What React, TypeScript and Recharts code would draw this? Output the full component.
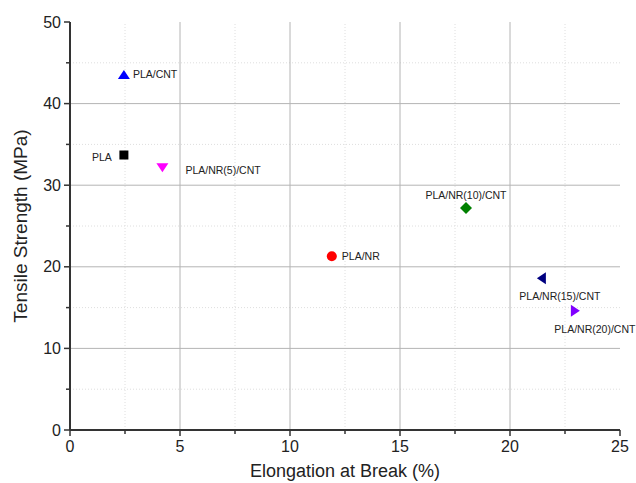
import React from 'react';
import { ScatterChart, Scatter, XAxis, YAxis, ReferenceLine } from 'recharts';

// samples and their (elongation %, tensile strength MPa)
const samples = ['PLA', 'PLA/CNT', 'PLA/NR', 'PLA/NR(5)/CNT', 'PLA/NR(10)/CNT', 'PLA/NR(15)/CNT', 'PLA/NR(20)/CNT'];
const elongation = [2.45, 2.45, 11.9, 4.2, 18.0, 21.45, 22.95];
const strength = [33.7, 43.5, 21.3, 32.2, 27.2, 18.6, 14.6];

const xTicks = [0, 5, 10, 15, 20, 25];
const yTicks = [0, 10, 20, 30, 40, 50];
const xMinor = [2.5, 7.5, 12.5, 17.5, 22.5];
const yMinor = [5, 15, 25, 35, 45];

// marker look + label placement per sample
const markerStyle: Record<string, { kind: string; color: string; dx: number; dy: number; anchor: string }> = {
  'PLA': { kind: 'square', color: '#000000', dx: -12, dy: 2, anchor: 'end' },
  'PLA/CNT': { kind: 'up', color: '#0000ff', dx: 9, dy: -1, anchor: 'start' },
  'PLA/NR': { kind: 'circle', color: '#ff0000', dx: 10, dy: 0, anchor: 'start' },
  'PLA/NR(5)/CNT': { kind: 'down', color: '#ff00ff', dx: 23, dy: 3, anchor: 'start' },
  'PLA/NR(10)/CNT': { kind: 'diamond', color: '#008000', dx: 0, dy: -13, anchor: 'middle' },
  'PLA/NR(15)/CNT': { kind: 'left', color: '#000080', dx: 18, dy: 18, anchor: 'middle' },
  'PLA/NR(20)/CNT': { kind: 'right', color: '#8000ff', dx: 20, dy: 18, anchor: 'middle' },
};

const FONT = '"Liberation Sans", Arial, sans-serif';
const AXIS = '#333333';

function Marker(props: any) {
  const { cx, cy, payload } = props;
  const s = markerStyle[payload.name];
  const r = 5;
  let mark: React.ReactNode = null;
  if (s.kind === 'square') mark = <rect x={cx - 4.5} y={cy - 4.5} width={9} height={9} fill={s.color} />;
  if (s.kind === 'circle') mark = <circle cx={cx} cy={cy} r={r} fill={s.color} />;
  if (s.kind === 'up') mark = <polygon points={`${cx},${cy - r} ${cx + r + 1},${cy + r - 1} ${cx - r - 1},${cy + r - 1}`} fill={s.color} />;
  if (s.kind === 'down') mark = <polygon points={`${cx},${cy + r} ${cx + r + 1},${cy - r + 1} ${cx - r - 1},${cy - r + 1}`} fill={s.color} />;
  if (s.kind === 'left') mark = <polygon points={`${cx - r},${cy} ${cx + r - 1},${cy - r - 1} ${cx + r - 1},${cy + r + 1}`} fill={s.color} />;
  if (s.kind === 'right') mark = <polygon points={`${cx + r},${cy} ${cx - r + 1},${cy - r - 1} ${cx - r + 1},${cy + r + 1}`} fill={s.color} />;
  if (s.kind === 'diamond') mark = <polygon points={`${cx},${cy - r - 1} ${cx + r + 1},${cy} ${cx},${cy + r + 1} ${cx - r - 1},${cy}`} fill={s.color} />;
  return (
    <g>
      {mark}
      <text x={cx + s.dx} y={cy + s.dy} dy="0.35em" textAnchor={s.anchor as any} fontSize={10.5} fontFamily={FONT} fill="#222">
        {payload.name}
      </text>
    </g>
  );
}

function XTick(props: any) {
  const { x, y, payload } = props;
  const major = xTicks.includes(payload.value);
  return (
    <g>
      <line x1={x} y1={y} x2={x} y2={y + (major ? 6 : 4)} stroke={AXIS} strokeWidth={1.5} />
      {major && (
        <text x={x} y={y + 22} textAnchor="middle" fontSize={16} fontFamily={FONT} fill="#222">
          {payload.value}
        </text>
      )}
    </g>
  );
}

function YTick(props: any) {
  const { x, y, payload } = props;
  const major = yTicks.includes(payload.value);
  return (
    <g>
      <line x1={x} y1={y} x2={x - (major ? 6 : 4)} y2={y} stroke={AXIS} strokeWidth={1.5} />
      {major && (
        <text x={x - 9} y={y} dy="0.35em" textAnchor="end" fontSize={16} fontFamily={FONT} fill="#222">
          {payload.value}
        </text>
      )}
    </g>
  );
}

export default function App() {
  const data = samples.map((name, i) => ({ name, x: elongation[i], y: strength[i] }));
  const allX = [...xTicks, ...xMinor].sort((a, b) => a - b);
  const allY = [...yTicks, ...yMinor].sort((a, b) => a - b);
  return (
    <div style={{ position: 'absolute', left: 0, top: 0, background: '#fff' }}>
      <ScatterChart width={636} height={483} margin={{ top: 22, right: 16, bottom: 20, left: 20 }}>
        {xMinor.map((v) => (
          <ReferenceLine key={'xm' + v} x={v} stroke="#dedede" strokeDasharray="1 2" />
        ))}
        {yMinor.map((v) => (
          <ReferenceLine key={'ym' + v} y={v} stroke="#dedede" strokeDasharray="1 2" />
        ))}
        {xTicks.slice(1, -1).map((v) => (
          <ReferenceLine key={'x' + v} x={v} stroke="#b4b4b4" />
        ))}
        {yTicks.slice(1, -1).map((v) => (
          <ReferenceLine key={'y' + v} y={v} stroke="#b4b4b4" />
        ))}
        <XAxis
          type="number"
          dataKey="x"
          domain={[0, 25]}
          ticks={allX}
          interval={0}
          tickSize={0}
          tickMargin={0}
          tickLine={false}
          tick={<XTick />}
          height={33}
          stroke={AXIS}
          strokeWidth={2}
          label={{ value: 'Elongation at Break (%)', position: 'insideBottom', offset: -14, fontSize: 18, fontFamily: FONT, fill: '#222' }}
        />
        <YAxis
          type="number"
          dataKey="y"
          domain={[0, 50]}
          ticks={allY}
          interval={0}
          tickSize={0}
          tickMargin={0}
          tickLine={false}
          tick={<YTick />}
          width={50}
          stroke={AXIS}
          strokeWidth={2}
          label={{ value: 'Tensile Strength (MPa)', angle: -90, position: 'insideLeft', offset: 0, fontSize: 19, fontFamily: FONT, fill: '#222', style: { textAnchor: 'middle' } }}
        />
        <Scatter data={data} shape={<Marker />} isAnimationActive={false} />
      </ScatterChart>
    </div>
  );
}
